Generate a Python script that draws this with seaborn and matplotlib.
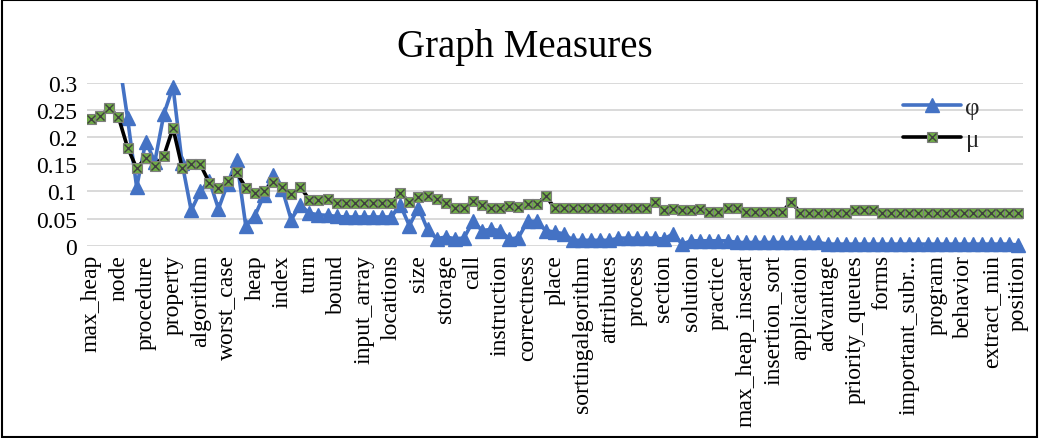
import numpy as np
import pandas as pd
import matplotlib
matplotlib.use('Agg')
import matplotlib.pyplot as plt
import seaborn as sns
from matplotlib.lines import Line2D
from matplotlib.patches import Rectangle

# Tick labels (every third category is labelled on the chart)
tick_labels = ['max_heap', 'node', 'procedure', 'property', 'algorithm', 'worst_case',
               'heap', 'index', 'turn', 'bound', 'input_array', 'locations', 'size',
               'storage', 'call', 'instruction', 'correctness', 'place',
               'sortingalgorithm', 'attributes', 'process', 'section', 'solution',
               'practice', 'max_heap_inseart', 'insertion_sort', 'application',
               'advantage', 'priority_queues', 'forms', 'important_subr...', 'program',
               'behavior', 'extract_min', 'position']

# phi series (first values run above the 0.3 axis limit)
phi = [0.48, 0.44, 0.40, 0.35, 0.235, 0.108, 0.192, 0.155, 0.243, 0.293,
       0.152, 0.065, 0.100, 0.120, 0.068, 0.114, 0.158, 0.037, 0.055, 0.093,
       0.130, 0.105, 0.048, 0.075, 0.060, 0.057, 0.056, 0.054, 0.053, 0.053,
       0.053, 0.053, 0.053, 0.053, 0.075, 0.037, 0.070, 0.030, 0.013, 0.016,
       0.013, 0.014, 0.045, 0.028, 0.030, 0.028, 0.012, 0.015, 0.045, 0.045,
       0.028, 0.025, 0.022, 0.010, 0.010, 0.010, 0.010, 0.010, 0.014, 0.014,
       0.014, 0.014, 0.014, 0.012, 0.022, 0.003, 0.009, 0.009, 0.009, 0.009,
       0.009, 0.006, 0.006, 0.006, 0.006, 0.006, 0.006, 0.006, 0.006, 0.006,
       0.006, 0.003, 0.003, 0.003, 0.003, 0.003, 0.003, 0.003, 0.003, 0.003,
       0.003, 0.003, 0.003, 0.003, 0.003, 0.003, 0.003, 0.003, 0.003, 0.003,
       0.003, 0.003, 0.001]

# mu series
mu = [0.234, 0.239, 0.254, 0.237, 0.181, 0.143, 0.161, 0.147, 0.166, 0.217,
      0.144, 0.151, 0.150, 0.116, 0.107, 0.119, 0.135, 0.107, 0.097, 0.100,
      0.118, 0.109, 0.095, 0.108, 0.085, 0.085, 0.086, 0.079, 0.079, 0.079,
      0.079, 0.079, 0.079, 0.079, 0.0965, 0.081, 0.090, 0.092, 0.086, 0.079,
      0.069, 0.069, 0.083, 0.075, 0.069, 0.069, 0.074, 0.072, 0.076, 0.076,
      0.092, 0.069, 0.069, 0.069, 0.069, 0.069, 0.069, 0.069, 0.069, 0.069,
      0.069, 0.069, 0.080, 0.066, 0.067, 0.066, 0.066, 0.068, 0.062, 0.062,
      0.069, 0.069, 0.062, 0.062, 0.062, 0.062, 0.062, 0.081, 0.061, 0.061,
      0.061, 0.061, 0.061, 0.061, 0.066, 0.066, 0.066, 0.061, 0.061, 0.061,
      0.061, 0.061, 0.061, 0.061, 0.061, 0.061, 0.061, 0.061, 0.061, 0.061,
      0.061, 0.061, 0.061]

BLUE = '#4472C4'
GREEN = '#70AD47'

sns.set_theme(style='white')
plt.rcParams['font.family'] = ['Liberation Serif', 'DejaVu Serif']

df = pd.DataFrame({'pos': np.arange(len(mu)), 'phi': phi, 'mu': mu})

fig = plt.figure(figsize=(10.39, 4.39), dpi=100)
ax = fig.add_axes([0.0834, 0.438, 0.9012, 0.3707])

# phi: line clipped at plot area, markers drawn unclipped (Excel style)
sns.lineplot(data=df, x='pos', y='phi', color=BLUE, lw=2.6, ax=ax, zorder=2)
vis = df[df['phi'] <= 0.3]
ax.plot(vis['pos'], vis['phi'], ls='none', marker='^', ms=9.5, color=BLUE,
        clip_on=False, zorder=2)

# mu: black line with green square + x markers
sns.lineplot(data=df, x='pos', y='mu', color='black', lw=2.6, ax=ax, zorder=3)
ax.plot(df['pos'], df['mu'], ls='none', marker='s', ms=7.3, mfc=GREEN,
        mec='#7F7F7F', mew=0.8, zorder=4)
ax.plot(df['pos'], df['mu'], ls='none', marker='x', ms=5.2, color='#404040',
        mew=1.0, zorder=5)

ax.set_xlim(-0.5, len(mu) - 0.5)
ax.set_ylim(0, 0.3)
ax.set_xticks(np.arange(0, len(mu), 3))
ax.set_xticklabels(tick_labels, rotation=90, fontsize=17)
ax.set_yticks([0, 0.05, 0.1, 0.15, 0.2, 0.25, 0.3])
ax.set_yticklabels(['0', '0.05', '0.1', '0.15', '0.2', '0.25', '0.3'], fontsize=17)
ax.tick_params(axis='both', length=0, colors='black')
ax.tick_params(axis='y', pad=7)
ax.tick_params(axis='x', pad=6)
ax.set_xlabel('')
ax.set_ylabel('')
ax.yaxis.grid(True, color='#D9D9D9', lw=1.4)
ax.xaxis.grid(False)
for s in ax.spines.values():
    s.set_visible(False)

fig.text(0.505, 1 - 48 / 439, 'Graph Measures', ha='center', va='center',
         fontsize=28, color='black')

h_phi = Line2D([], [], color=BLUE, lw=2.6, marker='^', ms=9.5)
h_mu = (Line2D([], [], color='black', lw=2.6, marker='s', ms=7.3, mfc=GREEN,
               mec='#7F7F7F', mew=0.8),
        Line2D([], [], ls='none', marker='x', ms=5.2, color='#404040', mew=1.0))
fig.legend([h_phi, h_mu], ['φ', 'μ'], loc='upper left',
           bbox_to_anchor=(903 / 1039, 1 - 97 / 439), frameon=False, fontsize=18,
           handlelength=2.3, labelspacing=0.4, handletextpad=0.2,
           borderaxespad=0, borderpad=0)

fig.patches.append(Rectangle((0.002, 0.002), 0.996, 0.995, transform=fig.transFigure,
                             fill=False, edgecolor='black', lw=1.5))

fig.savefig('out.png', dpi=100)
